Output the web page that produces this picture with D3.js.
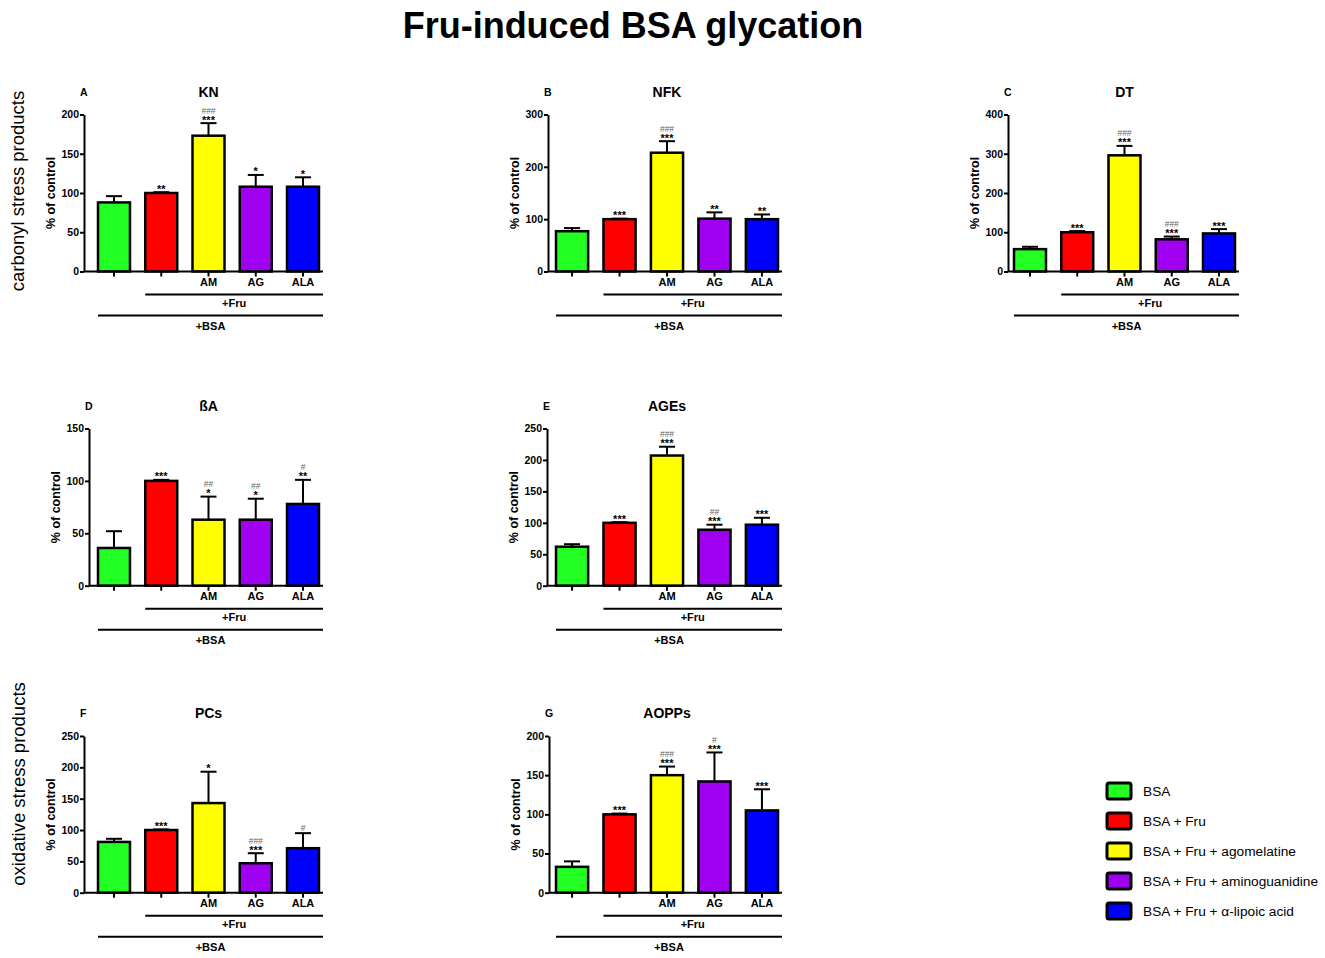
<!DOCTYPE html>
<html>
<head>
<meta charset="utf-8">
<script src="https://cdn.jsdelivr.net/npm/d3@7"></script>
<style>
  body { margin: 0; background: #fff; }
  svg { display: block; font-family: Arial, 'Liberation Sans', sans-serif; }
  .axis path, .axis line { stroke: #000; stroke-width: 2px; }
  .axis text { font-size: 10.5px; font-weight: bold; fill: #000; }
  .axis--x text { font-size: 11px; }
</style>
</head>
<body>
<svg id="chart" width="1325" height="958"></svg>
<script>
'use strict';

// groups and labels
var groups = ['BSA', 'BSA + Fru', 'BSA + Fru + agomelatine', 'BSA + Fru + aminoguanidine', 'BSA + Fru + \u03b1-lipoic acid'];
var tickLabels = ['', '', 'AM', 'AG', 'ALA'];
var colors = ['#22ff22', '#ff0000', '#ffff00', '#a000f0', '#0000ff'];

// % of control, mean and error
var knMean = [88, 100, 173, 108, 108];
var knErr = [8, 1, 16, 15, 12];
var knStars = ['', '**', '***', '*', '*'];
var knHash = ['', '', '###', '', ''];
var knTicks = [0, 50, 100, 150, 200];

var nfkMean = [77, 100, 227, 101, 100];
var nfkErr = [6, 1, 22, 12, 9];
var nfkStars = ['', '***', '***', '**', '**'];
var nfkHash = ['', '', '###', '', ''];
var nfkTicks = [0, 100, 200, 300];

var dtMean = [57, 100, 296, 82, 97];
var dtErr = [6, 3, 24, 7, 11];
var dtStars = ['', '***', '***', '***', '***'];
var dtHash = ['', '', '###', '###', ''];
var dtTicks = [0, 100, 200, 300, 400];

var baMean = [36, 100, 63, 63, 78];
var baErr = [16, 1, 22, 20, 23];
var baStars = ['', '***', '*', '*', '**'];
var baHash = ['', '', '##', '##', '#'];
var baTicks = [0, 50, 100, 150];

var agesMean = [62, 100, 207, 89, 97];
var agesErr = [4, 1, 14, 8, 11];
var agesStars = ['', '***', '***', '***', '***'];
var agesHash = ['', '', '###', '##', ''];
var agesTicks = [0, 50, 100, 150, 200, 250];

var pcsMean = [81, 100, 143, 47, 71];
var pcsErr = [5, 1, 50, 16, 24];
var pcsStars = ['', '***', '*', '***', ''];
var pcsHash = ['', '', '', '###', '#'];
var pcsTicks = [0, 50, 100, 150, 200, 250];

var aoppsMean = [33, 100, 150, 142, 105];
var aoppsErr = [7, 1, 11, 37, 27];
var aoppsStars = ['', '***', '***', '***', '***'];
var aoppsHash = ['', '', '###', '#', ''];
var aoppsTicks = [0, 50, 100, 150, 200];

var svg = d3.select('#chart');

// column / row geometry
var cols = [
  {bar0: 98, bar1: 319},
  {bar0: 556, bar1: 778},
  {bar0: 1014, bar1: 1235}
];
var rows = [
  {top: 114.5, zero: 271.5},
  {top: 428.5, zero: 585.7},
  {top: 736, zero: 892.7}
];

var panels = [
  {letter: 'A', title: 'KN', col: 0, row: 0, axisX: 84, mean: knMean, err: knErr, stars: knStars, hash: knHash, ticks: knTicks},
  {letter: 'B', title: 'NFK', col: 1, row: 0, axisX: 548, mean: nfkMean, err: nfkErr, stars: nfkStars, hash: nfkHash, ticks: nfkTicks},
  {letter: 'C', title: 'DT', col: 2, row: 0, axisX: 1008, mean: dtMean, err: dtErr, stars: dtStars, hash: dtHash, ticks: dtTicks},
  {letter: 'D', title: '\u00dfA', col: 0, row: 1, axisX: 89, mean: baMean, err: baErr, stars: baStars, hash: baHash, ticks: baTicks},
  {letter: 'E', title: 'AGEs', col: 1, row: 1, axisX: 547, mean: agesMean, err: agesErr, stars: agesStars, hash: agesHash, ticks: agesTicks},
  {letter: 'F', title: 'PCs', col: 0, row: 2, axisX: 84, mean: pcsMean, err: pcsErr, stars: pcsStars, hash: pcsHash, ticks: pcsTicks},
  {letter: 'G', title: 'AOPPs', col: 1, row: 2, axisX: 549, mean: aoppsMean, err: aoppsErr, stars: aoppsStars, hash: aoppsHash, ticks: aoppsTicks}
];

// main title
svg.append('text')
  .attr('x', 633)
  .attr('y', 38)
  .attr('text-anchor', 'middle')
  .style('font-size', '36px')
  .style('font-weight', 'bold')
  .text('Fru-induced BSA glycation');

// row labels
svg.append('text')
  .attr('transform', 'translate(24,191) rotate(-90)')
  .attr('text-anchor', 'middle')
  .style('font-size', '18.5px')
  .text('carbonyl stress products');

svg.append('text')
  .attr('transform', 'translate(25,784) rotate(-90)')
  .attr('text-anchor', 'middle')
  .style('font-size', '18.5px')
  .text('oxidative stress products');

panels.forEach(drawPanel);

function drawPanel(p) {
  var c = cols[p.col], r = rows[p.row];
  var axisEnd = c.bar1 + 4;
  var idx = d3.range(groups.length);

  var x = d3.scaleBand()
    .domain(idx)
    .range([c.bar0, c.bar1])
    .paddingInner(0.323)
    .paddingOuter(0);

  var y = d3.scaleLinear()
    .domain([0, d3.max(p.ticks)])
    .range([r.zero, r.top]);

  var g = svg.append('g');

  // letter and title
  g.append('text')
    .attr('x', p.axisX - 4)
    .attr('y', r.top - 19)
    .style('font-size', '10.5px')
    .style('font-weight', 'bold')
    .text(p.letter);

  g.append('text')
    .attr('x', (c.bar0 + c.bar1) / 2)
    .attr('y', r.top - 18)
    .attr('text-anchor', 'middle')
    .style('font-size', '14px')
    .style('font-weight', 'bold')
    .text(p.title);

  // y axis label
  g.append('text')
    .attr('transform', 'translate(' + (p.axisX - 29) + ',' + ((r.top + r.zero) / 2) + ') rotate(-90)')
    .attr('text-anchor', 'middle')
    .style('font-size', '12.5px')
    .style('font-weight', 'bold')
    .text('% of control');

  // bars
  g.selectAll('.bar')
    .data(idx)
    .enter().append('rect')
    .attr('class', 'bar')
    .attr('x', function(i) { return x(i); })
    .attr('y', function(i) { return y(p.mean[i]); })
    .attr('width', x.bandwidth())
    .attr('height', function(i) { return y(0) - y(p.mean[i]); })
    .attr('fill', function(i) { return colors[i]; })
    .attr('stroke', '#000')
    .attr('stroke-width', 2.5);

  // error bars (upper only)
  var capW = x.bandwidth() / 2;
  idx.forEach(function(i) {
    var cx = x(i) + x.bandwidth() / 2;
    var yTop = y(p.mean[i] + p.err[i]);
    g.append('line')
      .attr('x1', cx).attr('x2', cx)
      .attr('y1', y(p.mean[i])).attr('y2', yTop)
      .attr('stroke', '#000').attr('stroke-width', 2);
    g.append('line')
      .attr('x1', cx - capW / 2).attr('x2', cx + capW / 2)
      .attr('y1', yTop).attr('y2', yTop)
      .attr('stroke', '#000').attr('stroke-width', 2);

    // significance marks
    var hashY = yTop - 2.5;
    if (p.stars[i]) {
      g.append('text')
        .attr('x', cx)
        .attr('y', yTop + 0.5)
        .attr('text-anchor', 'middle')
        .style('font-size', '11px')
        .style('font-weight', 'bold')
        .text(p.stars[i]);
      hashY = yTop - 9.5;
    }
    if (p.hash[i]) {
      g.append('text')
        .attr('x', cx)
        .attr('y', hashY)
        .attr('text-anchor', 'middle')
        .style('font-size', '8.5px')
        .style('fill', '#666')
        .text(p.hash[i]);
    }
  });

  // y axis
  g.append('g')
    .attr('class', 'axis axis--y')
    .attr('transform', 'translate(' + p.axisX + ',0)')
    .call(d3.axisLeft(y).tickValues(p.ticks).tickSize(4).tickSizeOuter(0).tickPadding(1));

  // x axis
  var xa = g.append('g')
    .attr('class', 'axis axis--x')
    .attr('transform', 'translate(0,' + r.zero + ')')
    .call(d3.axisBottom(x).tickSize(5).tickPadding(2).tickFormat(function(i) { return tickLabels[i]; }));
  xa.select('.domain').remove();
  xa.append('line')
    .attr('x1', p.axisX).attr('x2', axisEnd)
    .attr('stroke', '#000').attr('stroke-width', 2);

  // +Fru and +BSA brackets
  g.append('line')
    .attr('x1', x(1)).attr('x2', axisEnd)
    .attr('y1', r.zero + 23).attr('y2', r.zero + 23)
    .attr('stroke', '#000').attr('stroke-width', 2);
  g.append('text')
    .attr('x', (x(1) + axisEnd) / 2)
    .attr('y', r.zero + 35.5)
    .attr('text-anchor', 'middle')
    .style('font-size', '11px')
    .style('font-weight', 'bold')
    .text('+Fru');

  g.append('line')
    .attr('x1', x(0)).attr('x2', axisEnd)
    .attr('y1', r.zero + 44).attr('y2', r.zero + 44)
    .attr('stroke', '#000').attr('stroke-width', 2);
  g.append('text')
    .attr('x', (x(0) + axisEnd) / 2)
    .attr('y', r.zero + 58)
    .attr('text-anchor', 'middle')
    .style('font-size', '11px')
    .style('font-weight', 'bold')
    .text('+BSA');
}

// legend
var legend = svg.append('g')
  .attr('transform', 'translate(1107,791)');

var item = legend.selectAll('.item')
  .data(groups)
  .enter().append('g')
  .attr('class', 'item')
  .attr('transform', function(d, i) { return 'translate(0,' + (i * 30) + ')'; });

item.append('rect')
  .attr('x', 0)
  .attr('y', -8)
  .attr('width', 24)
  .attr('height', 16)
  .attr('rx', 2)
  .attr('fill', function(d, i) { return colors[i]; })
  .attr('stroke', '#000')
  .attr('stroke-width', 3);

item.append('text')
  .attr('x', 36)
  .attr('y', 4.5)
  .style('font-size', '13.7px')
  .text(function(d) { return d; });
</script>
</body>
</html>
